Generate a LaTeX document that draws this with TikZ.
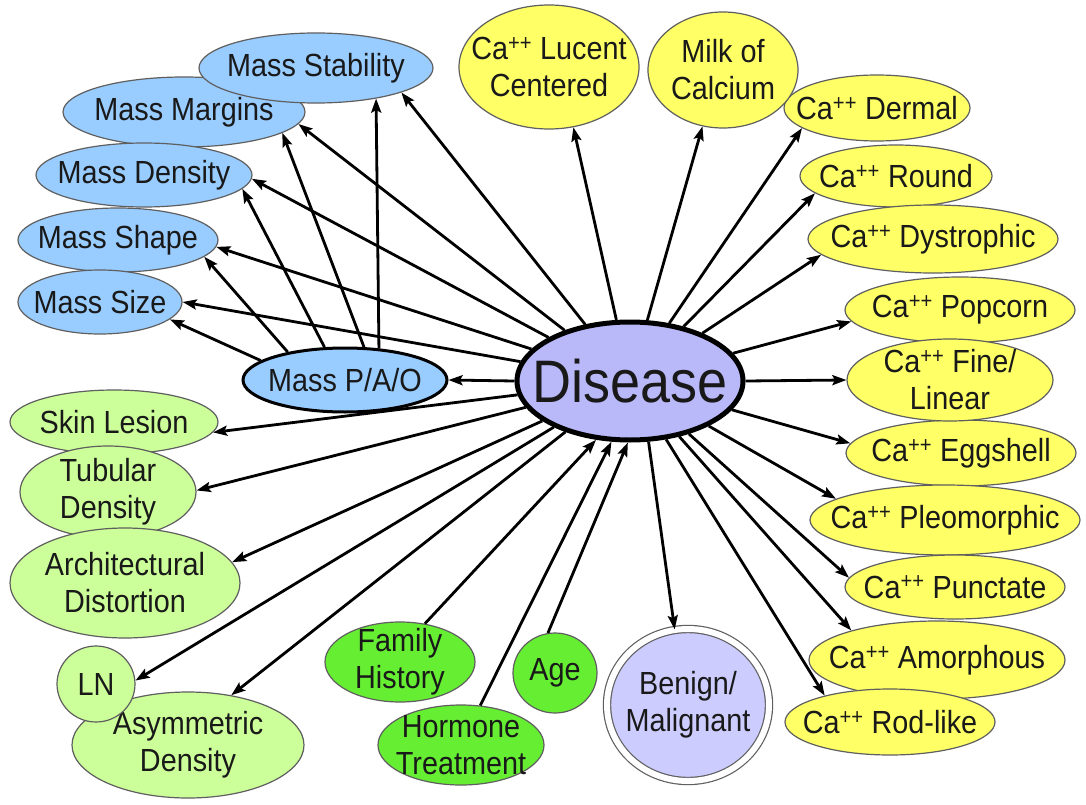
\documentclass[tikz,border=0pt]{standalone}
\usepackage{fontspec}
\setmainfont{Liberation Sans}[FakeStretch=0.9]
\usetikzlibrary{shapes.geometric,arrows.meta}
\definecolor{massblue}{RGB}{153,204,255}
\definecolor{cayellow}{RGB}{255,255,102}
\definecolor{lightgreen}{RGB}{204,255,153}
\definecolor{brightgreen}{RGB}{102,238,51}
\definecolor{lavender}{RGB}{204,204,255}
\definecolor{diseasefill}{RGB}{185,185,250}
\definecolor{rim}{RGB}{95,95,95}
\definecolor{ink}{RGB}{25,25,25}
\newcommand{\Ca}{Ca\textsuperscript{++}}

\begin{document}
\begin{tikzpicture}[x=1pt,y=-1pt,
  every label/.style={align=center, text=ink, font=\fontsize{32}{37}\selectfont},
  bubble/.style={ellipse, draw=rim, line width=1.2pt, inner sep=0pt},
  sz/.style 2 args={minimum width=#1pt, minimum height=#2pt},
  mass/.style={bubble, fill=massblue},
  calc/.style={bubble, fill=cayellow},
  sign/.style={bubble, fill=lightgreen},
  risk/.style={bubble, fill=brightgreen},
  arr/.style={line width=2.8pt, -{Stealth[length=14pt,width=10pt,inset=2.5pt]}}
]
\fill[white] (0,0) rectangle (1086,805);
\useasboundingbox (0,0) rectangle (1086,805);

% mass findings
\node[mass, sz={242}{70}, label=center:{Mass Margins}] (ms2) at (184,112) {};
\node[mass, sz={234}{70}, label=center:{Mass Stability}] (ms1) at (316,68) {};
\node[mass, sz={216}{64}, label=center:{Mass Density}] (ms3) at (144,175) {};
\node[mass, sz={200}{64}, label=center:{Mass Shape}] (ms4) at (118,240) {};
\node[mass, sz={164}{64}, label=center:{Mass Size}] (ms5) at (100,302) {};
\node[mass, draw=black, line width=3pt, sz={204}{64}, label=center:{Mass P/A/O}] (pao) at (345,380) {};

% calcification findings
\node[calc, sz={180}{124}, label=center:{\Ca{} Lucent\\Centered}] (y1) at (549,67) {};
\node[calc, sz={186}{66}, label=center:{\Ca{} Dermal}] (y3) at (877,108) {};
\node[calc, sz={150}{116}, label=center:{Milk of\\Calcium}] (y2) at (723,70) {};
\node[calc, sz={192}{62}, label=center:{\Ca{} Round}] (y4) at (896,176) {};
\node[calc, sz={250}{68}, label=center:{\Ca{} Dystrophic}] (y5) at (933,239) {};
\node[calc, sz={230}{66}, label=center:{\Ca{} Popcorn}] (y6) at (960,310) {};
\node[calc, sz={230}{66}, label=center:{\Ca{} Eggshell}] (y8) at (961,453) {};
\node[calc, sz={206}{82}, label=center:{\Ca{} Fine/\\Linear}] (y7) at (950,380) {};
\node[calc, sz={270}{70}, label=center:{\Ca{} Pleomorphic}] (y9) at (945,520) {};
\node[calc, sz={220}{64}, label=center:{\Ca{} Punctate}] (y10) at (955,587) {};
\node[calc, sz={256}{78}, label=center:{\Ca{} Amorphous}] (y11) at (937,660) {};
\node[calc, sz={210}{66}, label=center:{\Ca{} Rod-like}] (y12) at (890,722) {};

% other findings
\node[sign, sz={208}{64}, label=center:{Skin Lesion}] (g1) at (114,422) {};
\node[sign, sz={176}{92}, label=center:{Tubular\\Density}] (g2) at (108,492) {};
\node[sign, sz={230}{110}, label=center:{Architectural\\Distortion}] (g3) at (125,583) {};
\node[sign, sz={232}{106}, label=center:{Asymmetric\\Density}] (g5) at (188,745) {};
\node[sign, sz={78}{76}, label=center:{LN}] (g4) at (96,684) {};

% risk factors
\node[risk, sz={150}{80}, label=center:{Family\\History}] (h1) at (400,662) {};
\node[risk, sz={166}{80}, label=center:{Hormone\\Treatment}] (h2) at (461,745) {};
\node[risk, sz={84}{80}, label=center:{Age}] (h3) at (555,673) {};

% outcome
\node[bubble, fill=lavender, double=white, double distance=6pt, sz={162}{152},
  label=center:{Benign/\\Malignant}] (bm) at (688,705) {};

% central node
\node[ellipse, draw=black, line width=5pt, fill=diseasefill, inner sep=0pt,
  minimum width=226pt, minimum height=118pt,
  label={[font=\fontsize{60}{64}\selectfont]center:Disease}] (dis) at (630,381) {};

% mass links
\draw[arr] (dis.180) -- (pao.0);
\draw[arr] (pao.167) -- (ms5.-14);
\draw[arr] (pao.154) -- (ms4.-11);
\draw[arr] (pao.122) -- (ms3.-8);
\draw[arr] (pao.60) -- (ms2.-12);
\draw[arr] (pao.43) -- (ms1.-27);
\draw[arr] (dis) -- (ms5.0);
\draw[arr] (dis) -- (ms4.-4);
\draw[arr] (dis) -- (ms3.-2);
\draw[arr] (dis) -- (ms2.-6);
\draw[arr] (dis) -- (ms1.-16);

% calcification links
\draw[arr] (dis) -- (y1.-68);
\draw[arr] (dis) -- (y2.-110);
\draw[arr] (dis) -- (y3.-165);
\draw[arr] (dis) -- (y4.-168);
\draw[arr] (dis) -- (y5.-172);
\draw[arr] (dis) -- (y6.-174);
\draw[arr] (dis.0) -- (y7.180);
\draw[arr] (dis) -- (y8.175);
\draw[arr] (dis) -- (y9.169);
\draw[arr] (dis) -- (y10.175);
\draw[arr] (dis) -- (y11.161);
\draw[arr] (dis) -- (y12.158);

% other finding links
\draw[arr] (dis) -- (g1.-6);
\draw[arr] (dis) -- (g2.1);
\draw[arr] (dis) -- (g3.11);
\draw[arr] (dis) -- (g4.5);
\draw[arr] (dis) -- (g5.49);

% risk factors into disease, disease to outcome
\draw[arr] (h1.57) -- (dis.-120);
\draw[arr] (h2.64) -- (dis.-107);
\draw[arr] (h3.100) -- (dis.-92);
\draw[arr] (dis.-73) -- (bm.100);
\end{tikzpicture}
\end{document}
